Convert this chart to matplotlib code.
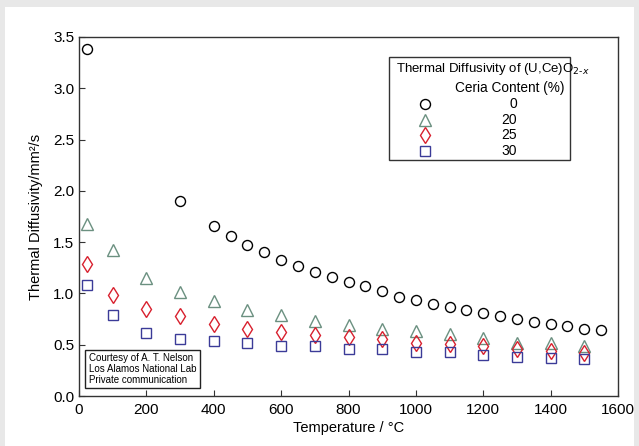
import matplotlib.pyplot as plt
from matplotlib.patches import Rectangle

plt.rcParams['font.family'] = ['Liberation Sans', 'DejaVu Sans']

# ceria content 0 %
t0 = [25, 300, 400, 450, 500, 550, 600, 650, 700, 750, 800, 850, 900, 950, 1000,
      1050, 1100, 1150, 1200, 1250, 1300, 1350, 1400, 1450, 1500, 1550]
d0 = [3.38, 1.90, 1.66, 1.56, 1.47, 1.40, 1.33, 1.27, 1.21, 1.16, 1.11, 1.07, 1.02,
      0.97, 0.94, 0.90, 0.87, 0.84, 0.81, 0.78, 0.755, 0.72, 0.70, 0.68, 0.65, 0.64]

temps = [25, 100, 200, 300, 400, 500, 600, 700, 800, 900, 1000, 1100, 1200, 1300, 1400, 1500]
d20 = [1.68, 1.42, 1.15, 1.01, 0.93, 0.84, 0.79, 0.73, 0.69, 0.65, 0.63, 0.60, 0.57, 0.52, 0.52, 0.49]
d25 = [1.29, 0.98, 0.85, 0.78, 0.705, 0.655, 0.62, 0.595, 0.575, 0.554, 0.52, 0.51, 0.49, 0.457, 0.44, 0.42]
d30 = [1.08, 0.79, 0.61, 0.555, 0.535, 0.515, 0.49, 0.483, 0.461, 0.456, 0.433, 0.43, 0.40, 0.384, 0.372, 0.36]

series = [
    (t0, d0, 'o', 'black', '0', 7.2),
    (temps, d20, '^', '#6b9080', '20', 8),
    (temps, d25, 'd', '#d8202e', '25', 8),
    (temps, d30, 's', '#3b3b98', '30', 7),
]

fig = plt.figure(figsize=(6.39, 4.46), dpi=100)
fig.patch.set_facecolor('#e8e8e8')
fig.patches.append(Rectangle((5 / 639, 0), 629 / 639, 439 / 446, transform=fig.transFigure,
                             facecolor='white', edgecolor='none', zorder=-10))

ax = fig.add_axes([79 / 639, 50 / 446, 539 / 639, 359 / 446])
for x, y, m, c, lab, ms in series:
    ax.plot(x, y, linestyle='none', marker=m, markersize=ms, markerfacecolor='none',
            markeredgecolor=c, markeredgewidth=1.0, clip_on=False)

ax.set_xlim(0, 1600)
ax.set_ylim(0, 3.5)
ax.set_xticks(range(0, 1601, 200))
ax.set_yticks([0, 0.5, 1.0, 1.5, 2.0, 2.5, 3.0, 3.5])
ax.set_yticklabels(['0.0', '0.5', '1.0', '1.5', '2.0', '2.5', '3.0', '3.5'])
ax.tick_params(direction='in', length=4, labelsize=11, colors='#333333', labelcolor='black')
ax.tick_params(axis='x', pad=5)
for s in ax.spines.values():
    s.set_color('#333333')
    s.set_linewidth(1.0)
ax.set_xlabel('Temperature / °C', fontsize=10.5, labelpad=3)
ax.set_ylabel('Thermal Diffusivity/mm²/s', fontsize=10.5, labelpad=7)

# legend box drawn by hand
ax.add_patch(Rectangle((0.575, 0.658), 0.336, 0.286, transform=ax.transAxes,
                       facecolor='white', edgecolor='#333333', linewidth=1.0, zorder=5))
ax.text(0.588, 0.910, 'Thermal Diffusivity of (U,Ce)O$_{2\\text{-}x}$', transform=ax.transAxes,
        fontsize=9.5, va='center', ha='left', zorder=6)
ax.text(0.800, 0.858, 'Ceria Content (%)', transform=ax.transAxes,
        fontsize=9.8, va='center', ha='center', zorder=6)
ys = [0.813, 0.770, 0.726, 0.683]
for (x, y, m, c, lab, ms), yy in zip(series, ys):
    ax.plot([0.642], [yy], transform=ax.transAxes, linestyle='none', marker=m, markersize=ms,
            markerfacecolor='none', markeredgecolor=c, markeredgewidth=1.0, zorder=6, clip_on=False)
    ax.text(0.813, yy, lab, transform=ax.transAxes, fontsize=10, va='center', ha='right', zorder=6)

ax.text(0.018, 0.120, 'Courtesy of A. T. Nelson\nLos Alamos National Lab\nPrivate communication',
        transform=ax.transAxes, fontsize=7, va='top', ha='left', linespacing=1.1,
        bbox=dict(boxstyle='square,pad=0.35', facecolor='white', edgecolor='#222222', linewidth=1.0))

fig.savefig('out.png', dpi=100, facecolor=fig.get_facecolor())
